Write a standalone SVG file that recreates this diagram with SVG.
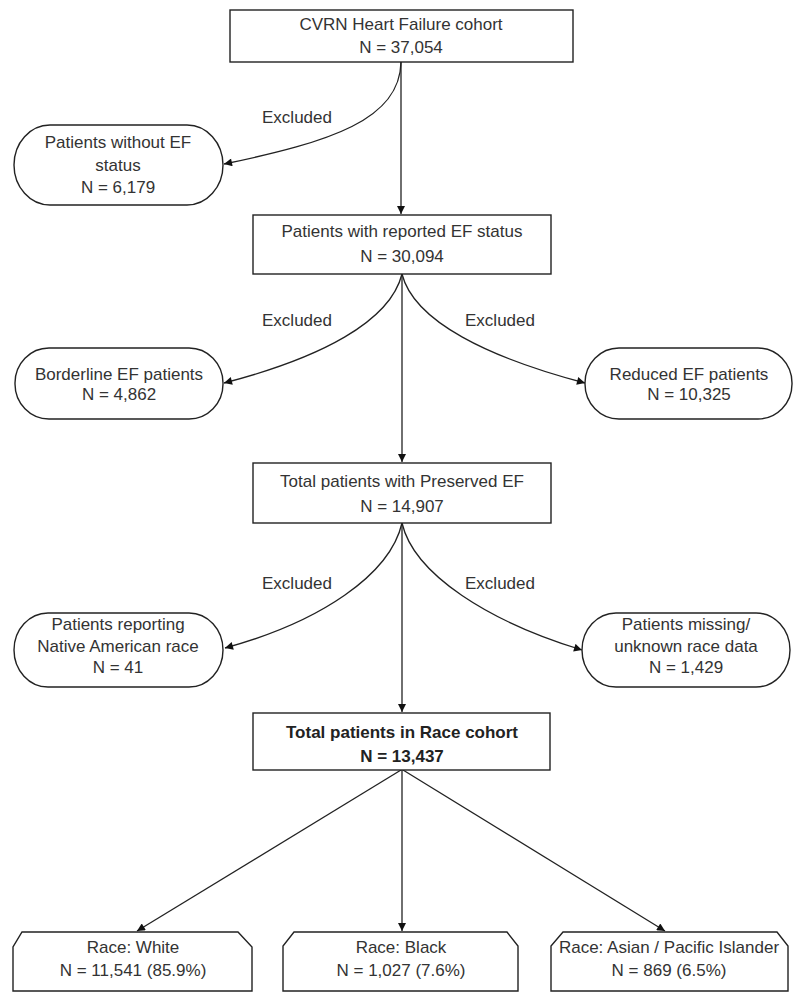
<svg xmlns="http://www.w3.org/2000/svg" width="800" height="999" viewBox="0 0 800 999">
<style>
.box{fill:#fff;stroke:#222;stroke-width:1.4}
.t{font-family:"Liberation Sans",Arial,sans-serif;font-size:17px;fill:#333;text-anchor:middle}
.b{font-weight:bold;fill:#222}
.c{fill:none;stroke:#222;stroke-width:1.3}
</style>
<defs>
<marker id="ah" viewBox="0 0 10 10" refX="10" refY="5" markerWidth="9" markerHeight="8" markerUnits="userSpaceOnUse" orient="auto">
<path d="M0,0 L10,5 L0,10 z" fill="#111"/>
</marker>
</defs>
<rect width="800" height="999" fill="#fff"/>
<g id="connectors">
<path class="c" d="M401,62 L401,214" marker-end="url(#ah)"/>
<path class="c" d="M401,62 C400,120 330,142 224,164" marker-end="url(#ah)"/>
<path class="c" d="M402,274 L402,462" marker-end="url(#ah)"/>
<path class="c" d="M402,274 C390,322 320,358 224,383" marker-end="url(#ah)"/>
<path class="c" d="M402,274 C414,322 490,358 585,383" marker-end="url(#ah)"/>
<path class="c" d="M402,523 L402,712" marker-end="url(#ah)"/>
<path class="c" d="M402,523 C390,575 320,622 225,648" marker-end="url(#ah)"/>
<path class="c" d="M402,523 C414,575 490,622 582,650" marker-end="url(#ah)"/>
<path class="c" d="M401,770 L137,931" marker-end="url(#ah)"/>
<path class="c" d="M402,770 L402,931" marker-end="url(#ah)"/>
<path class="c" d="M403,770 L665,931" marker-end="url(#ah)"/>
<text class="t" x="297" y="123">Excluded</text>
<text class="t" x="297" y="326">Excluded</text>
<text class="t" x="500" y="326">Excluded</text>
<text class="t" x="297" y="589">Excluded</text>
<text class="t" x="500" y="589">Excluded</text>
</g>
<g id="n1">
<rect class="box" x="230" y="10" width="343" height="52"/>
<text class="t" x="401" y="30">CVRN Heart Failure cohort</text>
<text class="t" x="401" y="53">N = 37,054</text>
</g>
<g id="n2">
<rect class="box" x="14" y="125" width="209" height="80" rx="36" ry="40"/>
<text class="t" x="118" y="148">Patients without EF</text>
<text class="t" x="118" y="171">status</text>
<text class="t" x="118" y="193">N = 6,179</text>
</g>
<g id="n3">
<rect class="box" x="253" y="215" width="298" height="59"/>
<text class="t" x="402" y="237">Patients with reported EF status</text>
<text class="t" x="402" y="262">N = 30,094</text>
</g>
<g id="n4">
<rect class="box" x="15" y="348" width="208" height="71" rx="34" ry="35"/>
<text class="t" x="119" y="380">Borderline EF patients</text>
<text class="t" x="119" y="400">N = 4,862</text>
</g>
<g id="n5">
<rect class="box" x="585" y="348" width="207" height="71" rx="34" ry="35"/>
<text class="t" x="689" y="380">Reduced EF patients</text>
<text class="t" x="689" y="400">N = 10,325</text>
</g>
<g id="n6">
<rect class="box" x="253" y="463" width="298" height="60"/>
<text class="t" x="402" y="487">Total patients with Preserved EF</text>
<text class="t" x="402" y="512">N = 14,907</text>
</g>
<g id="n7">
<rect class="box" x="14" y="613" width="209" height="74" rx="34" ry="37"/>
<text class="t" x="118" y="630">Patients reporting</text>
<text class="t" x="118" y="652">Native American race</text>
<text class="t" x="118" y="673">N = 41</text>
</g>
<g id="n8">
<rect class="box" x="582" y="613" width="208" height="74" rx="34" ry="37"/>
<text class="t" x="686" y="630">Patients missing/</text>
<text class="t" x="686" y="652">unknown race data</text>
<text class="t" x="686" y="673">N = 1,429</text>
</g>
<g id="n9">
<rect class="box" x="253" y="713" width="297" height="57"/>
<text class="t b" x="402" y="738">Total patients in Race cohort</text>
<text class="t b" x="402" y="762">N = 13,437</text>
</g>
<g id="n10">
<path class="box" d="M22,932 L238,932 L252,947 L252,991 L13,991 L13,947 z"/>
<text class="t" x="133" y="953">Race: White</text>
<text class="t" x="133" y="976">N = 11,541 (85.9%)</text>
</g>
<g id="n11">
<path class="box" d="M294,932 L507,932 L518,946 L518,991 L283,991 L283,946 z"/>
<text class="t" x="401" y="953">Race: Black</text>
<text class="t" x="401" y="976">N = 1,027 (7.6%)</text>
</g>
<g id="n12">
<path class="box" d="M563,932 L777,932 L788,946 L788,991 L551,991 L551,946 z"/>
<text class="t" x="669" y="953">Race: Asian / Pacific Islander</text>
<text class="t" x="669" y="976">N = 869 (6.5%)</text>
</g>
</svg>
